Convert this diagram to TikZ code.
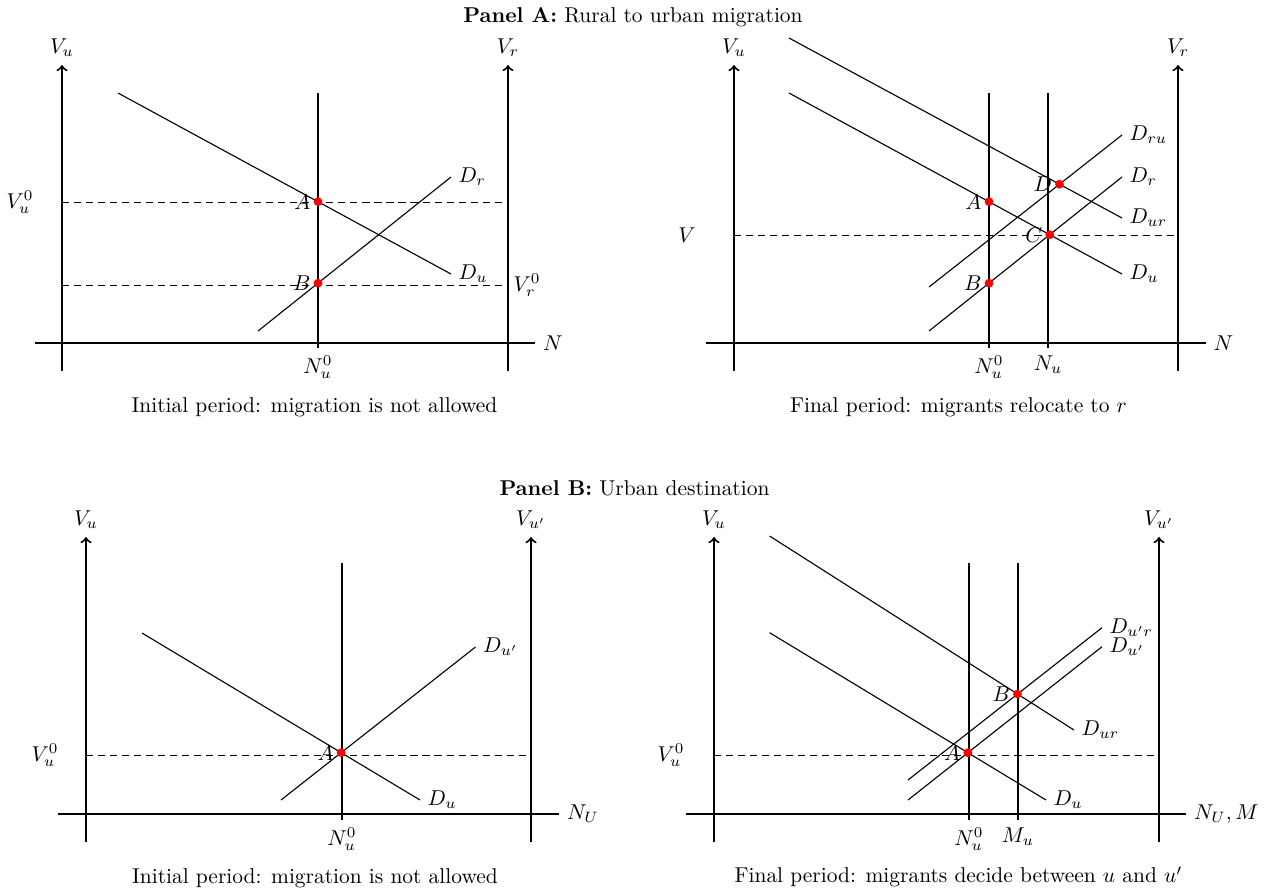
\documentclass[tikz,border=0pt]{standalone}
\begin{document}
\begin{tikzpicture}[x=0.466pt,y=-0.466pt,
  axisline/.style={line width=0.93pt},
  axisarrow/.style={line width=0.93pt,->},
  curve/.style={line width=0.52pt},
  guide/.style={line width=0.47pt,dash pattern=on 3.3pt off 2.3pt},
  dot/.style={circle,fill=red,inner sep=0pt,minimum size=4.1pt},
  lbl/.style={inner sep=0pt}]
\useasboundingbox (0,0) rectangle (1271,893);

% ---------- titles ----------
\node (titleA) at (633,17) {\textbf{Panel A:} Rural to urban migration};
\node (titleB) at (634.5,488) {\textbf{Panel B:} Urban destination};

% ---------- Panel A, left ----------
\draw[axisarrow] (62,371) -- (62,65) node[above] (al-vu) {$V_u$};
\draw[axisarrow] (508,371) -- (508,65) node[above] (al-vr) {$V_r$};
\draw[axisline] (35,343) -- (535,343) node[right] (al-n) {$N$};
\draw[guide] (62,202) -- (504,202);
\draw[guide] (62,285) -- (504,285);
\node[lbl] (al-vu0) at (20,202) {$V_u^0$};
\node[lbl] (al-vr0) at (527,285) {$V_r^0$};
\coordinate (al-v1) at (318,93); \coordinate (al-v2) at (318,348);
\coordinate (al-du1) at (118,93); \coordinate (al-du2) at (451,274);
\coordinate (al-dr1) at (258,331); \coordinate (al-dr2) at (451,177);
\draw[curve] (al-v1) -- (al-v2) node[below] (al-n0) {$N_u^0$};
\draw[curve] (al-du1) -- (al-du2) node[right] (al-dul) {$D_u$};
\draw[curve] (al-dr1) -- (al-dr2) node[right] (al-drl) {$D_r$};
\node[dot] (al-A) at (intersection of al-v1--al-v2 and al-du1--al-du2) {};
\node[dot] (al-B) at (intersection of al-v1--al-v2 and al-dr1--al-dr2) {};
\node[left] at (al-A.center) {$A$};
\node[left] at (al-B.center) {$B$};
\node (al-cap) at (314.5,407) {Initial period: migration is not allowed};

% ---------- Panel A, right ----------
\draw[axisarrow] (734,371) -- (734,65) node[above] (ar-vu) {$V_u$};
\draw[axisarrow] (1178,371) -- (1178,65) node[above] (ar-vr) {$V_r$};
\draw[axisline] (705.5,343) -- (1205.5,343) node[right] (ar-n) {$N$};
\draw[guide] (734,235) -- (1175,235);
\node[lbl] (ar-v) at (687,235) {$V$};
\coordinate (ar-a1) at (989,93); \coordinate (ar-a2) at (989,348);
\coordinate (ar-b1) at (1048,93); \coordinate (ar-b2) at (1048,348);
\coordinate (ar-dur1) at (789,38); \coordinate (ar-dur2) at (1122,218);
\coordinate (ar-du1) at (789,93); \coordinate (ar-du2) at (1122,274);
\coordinate (ar-dru1) at (929,287); \coordinate (ar-dru2) at (1122,135);
\coordinate (ar-dr1) at (929,331); \coordinate (ar-dr2) at (1122,177);
\draw[curve] (ar-a1) -- (ar-a2) node[below] (ar-n0) {$N_u^0$};
\draw[curve] (ar-b1) -- (ar-b2) node[below] (ar-nu) {$N_u$};
\draw[curve] (ar-dur1) -- (ar-dur2) node[right] (ar-durl) {$D_{ur}$};
\draw[curve] (ar-du1) -- (ar-du2) node[right] (ar-dul) {$D_u$};
\draw[curve] (ar-dru1) -- (ar-dru2) node[right] (ar-drul) {$D_{ru}$};
\draw[curve] (ar-dr1) -- (ar-dr2) node[right] (ar-drl) {$D_r$};
\node[dot] (ar-A) at (intersection of ar-a1--ar-a2 and ar-du1--ar-du2) {};
\node[dot] (ar-B) at (intersection of ar-a1--ar-a2 and ar-dr1--ar-dr2) {};
\node[dot] (ar-C) at (intersection of ar-du1--ar-du2 and ar-dr1--ar-dr2) {};
\node[dot] (ar-D) at (intersection of ar-dur1--ar-dur2 and ar-dru1--ar-dru2) {};
\node[left] at (ar-A.center) {$A$};
\node[left] at (ar-B.center) {$B$};
\node[left] at (ar-C.center) {$C$};
\node[left] at (ar-D.center) {$D$};
\node (ar-cap) at (958.5,407) {Final period: migrants relocate to $r$};

% ---------- Panel B, left ----------
\draw[axisarrow] (86,842) -- (86,537) node[above] (bl-vu) {$V_u$};
\draw[axisarrow] (531,842) -- (531,537) node[above] (bl-vu2) {$V_{u'}$};
\draw[axisline] (58,814) -- (559,814) node[right] (bl-n) {$N_U$};
\draw[guide] (86,755) -- (531,755);
\node[lbl] (bl-vu0) at (45,755) {$V_u^0$};
\coordinate (bl-v1) at (342,563); \coordinate (bl-v2) at (342,820);
\coordinate (bl-du1) at (142,633); \coordinate (bl-du2) at (420,800);
\coordinate (bl-dp1) at (281,800); \coordinate (bl-dp2) at (475.5,647);
\draw[curve] (bl-v1) -- (bl-v2) node[below] (bl-n0) {$N_u^0$};
\draw[curve] (bl-du1) -- (bl-du2) node[right] (bl-dul) {$D_u$};
\draw[curve] (bl-dp1) -- (bl-dp2) node[right] (bl-dpl) {$D_{u'}$};
\node[dot] (bl-A) at (intersection of bl-du1--bl-du2 and bl-dp1--bl-dp2) {};
\node[left] at (bl-A.center) {$A$};
\node (bl-cap) at (315,878) {Initial period: migration is not allowed};

% ---------- Panel B, right ----------
\draw[axisarrow] (714,842) -- (714,537) node[above] (br-vu) {$V_u$};
\draw[axisarrow] (1159,842) -- (1159,537) node[above] (br-vu2) {$V_{u'}$};
\draw[axisline] (686,814) -- (1186,814) node[right] (br-n) {$N_U,M$};
\draw[guide] (714,755) -- (1155,755);
\node[lbl] (br-vu0) at (671,755) {$V_u^0$};
\coordinate (br-a1) at (969,563); \coordinate (br-a2) at (969,820);
\coordinate (br-b1) at (1018,563); \coordinate (br-b2) at (1018,820);
\coordinate (br-dur1) at (769.6,536); \coordinate (br-dur2) at (1074,730);
\coordinate (br-du1) at (769.6,632.7); \coordinate (br-du2) at (1046,800);
\coordinate (br-dpr1) at (908,780); \coordinate (br-dpr2) at (1102,627.7);
\coordinate (br-dp1) at (908,800); \coordinate (br-dp2) at (1102,646.7);
\draw[curve] (br-a1) -- (br-a2) node[below] (br-n0) {$N_u^0$};
\draw[curve] (br-b1) -- (br-b2) node[below] (br-mu) {$M_u$};
\draw[curve] (br-dur1) -- (br-dur2) node[right] (br-durl) {$D_{ur}$};
\draw[curve] (br-du1) -- (br-du2) node[right] (br-dul) {$D_u$};
\draw[curve] (br-dpr1) -- (br-dpr2) node[right] (br-dprl) {$D_{u'r}$};
\draw[curve] (br-dp1) -- (br-dp2) node[right] (br-dpl) {$D_{u'}$};
\node[dot] (br-A) at (intersection of br-du1--br-du2 and br-dp1--br-dp2) {};
\node[dot] (br-B) at (intersection of br-dur1--br-dur2 and br-dpr1--br-dpr2) {};
\node[left] at (br-A.center) {$A$};
\node[left] at (br-B.center) {$B$};
\node (br-cap) at (958.5,877) {Final period: migrants decide between $u$ and $u'$};
\end{tikzpicture}
\end{document}
